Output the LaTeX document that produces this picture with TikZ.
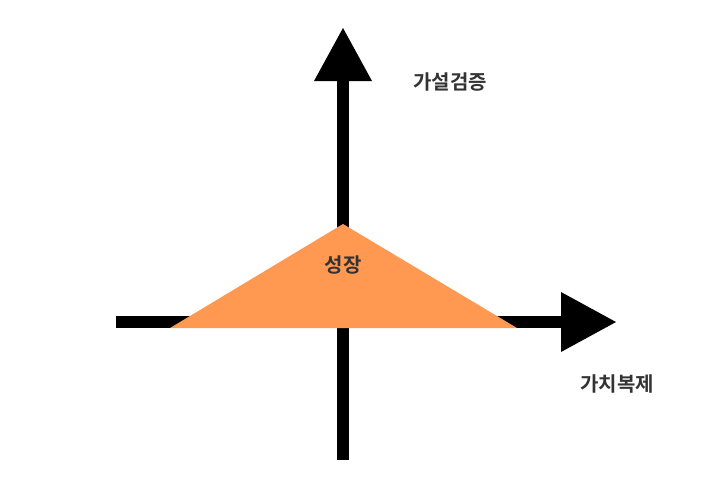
\documentclass[tikz,border=0pt]{standalone}
\usepackage{fontspec}
\newfontfamily\cjk{Noto Sans CJK KR}[BoldFont={Noto Sans CJK KR Bold}]
\begin{document}
\begin{tikzpicture}[x=1pt,y=-1pt,
  axis/.style={line width=12pt},
  head/.style={fill=black},
  lbl/.style={font=\cjk\bfseries\fontsize{20}{24}\selectfont, text=black!80}]
\useasboundingbox (0,0) rectangle (722,485);
\coordinate (vb) at (343,460);
\coordinate (vt) at (343,80);
\coordinate (hl) at (116,322);
\coordinate (hr) at (562,322);
\draw[axis] (vb) -- (vt);
\draw[axis] (hl) -- (hr);
\fill[head] (314,81) -- (343,28) -- (372,81) -- cycle;
\fill[head] (561,292) -- (616,322) -- (561,352) -- cycle;
\fill[fill={rgb,255:red,255;green,153;blue,82}] (343,224) -- (517,328) -- (170,328) -- cycle;
\node[lbl] (growth) at (343,265) {성장};
\node[lbl] (hyp) at (450,82) {가설검증};
\node[lbl] (val) at (617,384) {가치복제};
\end{tikzpicture}
\end{document}
